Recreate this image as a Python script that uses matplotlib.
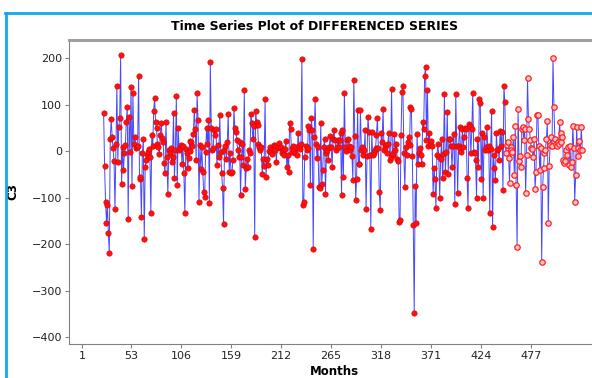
import matplotlib
matplotlib.use('Agg')
import matplotlib.pyplot as plt
from matplotlib.lines import Line2D
import numpy as np

# Dados (série diferenciada, C3)
first_month = 24
hollow_from = 450   # a partir daqui os símbolos são vazados

c3_part1 = [81, -32, -109, -154, -116, -177, -219, 27, 69, 31, 6, -21, -125, 15, 140, -23,
            51, 72, 207, -71, 9, -41, -5, 13, 63, 95, -146, 74, -1, 138, -75, 125, 16, 31,
            6, 9, 11, 162, -59, -55, -141, -5, 26, -190, -34, -19, -9, -1, 5, -12, -134,
            34, 10, 87, 115, 63, 49, 15, 8, -6, 34, 61, 28, 20, -25, -48]
c3_part2 = [63, -12, -92, 2, -5, 6, -23, -12, 81, -57, 2, 118, -73, 49, 2, 6, 13, -27, 11,
            -47, -133, 4, -5, -37, -14, 22, 1, 20, 12, 36, 88, 47, -19, 124, 67, -109, 13,
            -39, 8, -44, -87, -98, -1, 49, 16, 67, -111, 191, 49, 2, 6, 45, 34, 47, -30, 13,
            -12, 77, -1, -47, -79, -157, 2, 10, -16, 20, 80, -44]
c3_part3 = [-5, -47, -44, -19, 93, 49, 42, 24, 2, -12, 20, -95, -12, 16, -30, 131, -82, -37,
            -16, -34, 2, -5, 80, 61, 27, 54, -184, 86, 63, 56, 16, 9, 2, 8, -49, -16, -32,
            111, -55, -16, -30, 1, 8, -1, -6, 4, 14, 11, 3, -23, 13, 8, 18, 6, 9, -4, 2, -9,
            5, 22, -34, -9, -44, 61, 47, -1, 6, 12]
c3_part4 = [2, -5, 9, -8, 39, 11, 4, 16, 198, -116, -109, -12, 11, 2, 6, 54, 45, -73, 72, 45,
            -211, 31, 111, 16, -14, 9, -77, -80, 61, -70, -41, 9, 25, -92, -4, 2, -19, 9, 33,
            9, -35, 27, 45, 24, 2, 9, 24, 8, 24, 38, -95, 45, -55, 125, 9, 1, 24, 27, 12, 2,
            8, -10, -62, 154, 32, -105, -59, 88, -27]
c3_part5 = [-28, 88, 2, 8, -9, 2, 45, -125, -11, 74, 42, -9, -168, 42, -9, -5, 2, 6, 34, 72,
            6, -89, -127, 39, 20, 90, 2, 8, 13, -4, 16, 39, -19, -12, 133, -9, -5, 36, 2, 15,
            -16, -21, -152, -148, 34, 128, 140, -5, -78, 9, -8, 20, 31, 14, 95, 90, -11, -159,
            -348, -75, -154, 37, -27, -5, 6, -9, -27, 63, 47, 161, 181]
c3_part6 = [24, 131, 11, 38, 16, 22, 11, -92, -37, -61, -123, -9, 15, -12, -100, -16, 25, -57,
            -6, 123, -46, -1, 85, -49, 27, 25, 11, -35, 11, 37, -114, 123, 11, -91, 11, 51, 6,
            -1, 47, 9, 30, 49, 47, -57, -123, 59, 54, -5, 47, 124, -1, -5, -19, -100, 27, -35,
            111, 104, -61, 39, -100, 31, 2, 9, 51, 2, 11, -134]
c3_part7 = [5, 87, -164, -9, -37, -62, 38, 2, 4, -20, 44, 12, 42, -84, 140, 106, -5, 13, 20,
            -15, -68, 8, 2, -1, 30, -52, 54, -72, -206, 90, -21, -11, -35, 47, 51, 24, 47, -90,
            -9, 158, 70, 47, 24, 6, 4, -12, 25, -82, -44, 77, 77, 11, -41, 6, -238, -78, -37,
            -4, 2, 27, 65, -154, -32, 13, 30, 11, 201, 94, 25, 15, 11, 20, 15, 63, 20, 39, 31,
            -19, -25, -21, 2, -8, 9, -30, 11, -34, -23, 54, 6, -109, -52, 51, 6, -10, 22, 2,
            51, 2]

x_ticks = [1, 53, 106, 159, 212, 265, 318, 371, 424, 477]
y_ticks = [200, 100, 0, -100, -200, -300, -400]

c3 = np.array(c3_part1 + c3_part2 + c3_part3 + c3_part4 + c3_part5 + c3_part6 + c3_part7)
months = np.arange(first_month, first_month + len(c3))
filled = months < hollow_from

# Figura
W, H = 592, 378
fig = plt.figure(figsize=(W / 100, H / 100), dpi=100)
ax = fig.add_axes([69 / W, 34 / H, 531 / W, 304 / H])

ax.plot(months, c3, color='#1a1aff', lw=0.7, alpha=0.8, zorder=2)
ax.plot(months[filled], c3[filled], ls='none', marker='o', ms=3.9,
        mfc='#ff1010', mec='#d80000', mew=0.4, zorder=3)
ax.plot(months[~filled], c3[~filled], ls='none', marker='o', ms=3.9,
        mfc='#ffc4c4', mec='#ff2020', mew=0.9, zorder=3)

ax.set_xlim(-12.7, 549.8)
ax.set_ylim(-415, 239)
ax.set_xticks(x_ticks)
ax.set_yticks(y_ticks)

ax.spines['right'].set_visible(False)
ax.spines['top'].set_color('#a0a0a0')
ax.spines['top'].set_linewidth(2.2)
ax.spines['left'].set_color('#808080')
ax.spines['bottom'].set_color('#808080')
ax.tick_params(direction='out', length=3, width=0.8, color='#808080',
               labelsize=8, labelcolor='#222222', pad=2)

ax.set_xlabel('Months', fontsize=8.5, fontweight='bold', labelpad=3)
ax.set_ylabel('C3', fontsize=8.5, fontweight='bold', labelpad=9)

fig.text(315 / W, 1 - 27 / H, 'Time Series Plot of DIFFERENCED SERIES',
         ha='center', va='center', fontsize=9, fontweight='bold')

# moldura azul (canto superior esquerdo)
fig.add_artist(Line2D([6 / W, 6 / W], [0, 1 - 13 / H], transform=fig.transFigure,
                      color='#10aaec', lw=2))
fig.add_artist(Line2D([5 / W, 1], [1 - 13 / H, 1 - 13 / H], transform=fig.transFigure,
                      color='#10aaec', lw=2))

fig.savefig('out.png', dpi=100)
